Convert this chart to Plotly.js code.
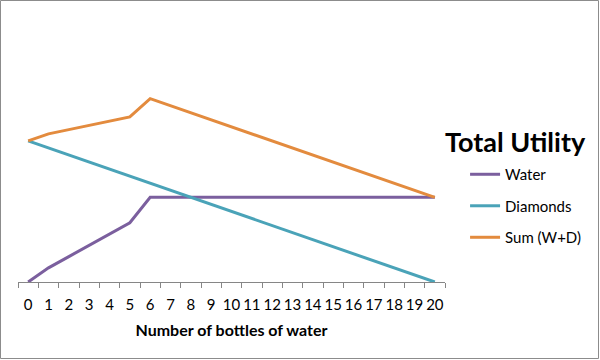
<!DOCTYPE html>
<html>
<head>
<meta charset="utf-8">
<script src="https://cdn.plot.ly/plotly-3.0.1.min.js"></script>
<style>
html,body{margin:0;padding:0;background:#fff;}
#chart{width:600px;height:360px;}
</style>
</head>
<body>
<div id="chart"></div>
<script>
const bottles = ['0','1','2','3','4','5','6','7','8','9','10','11','12','13','14','15','16','17','18','19','20'];
const water = [0,5,9,13,17,21,30,30,30,30,30,30,30,30,30,30,30,30,30,30,30];
const diamonds = [50,47.5,45,42.5,40,37.5,35,32.5,30,27.5,25,22.5,20,17.5,15,12.5,10,7.5,5,2.5,0];
const sumWD = [50,52.5,54,55.5,57,58.5,65,62.5,60,57.5,55,52.5,50,47.5,45,42.5,40,37.5,35,32.5,30];
const seriesNames = ['Water','Diamonds','Sum (W+D)'];
const legendTitle = 'Total Utility';
const xTitle = 'Number of bottles of water';

const colors = ['#7B5F9E','#4AA3B8','#E38B3E'];
const series = [water, diamonds, sumWD];
const FONT = 'Lato, "Open Sans", sans-serif';

const traces = series.map((vals, i) => ({
  type: 'scatter',
  mode: 'lines',
  x: bottles,
  y: vals,
  name: seriesNames[i],
  legendgroup: 'g' + i,
  line: {color: colors[i], width: 3},
  hoverinfo: 'x+y+name'
}));

const layout = {
  width: 600, height: 360,
  margin: {l: 18, r: 155, t: 21, b: 78},
  paper_bgcolor: '#ffffff',
  plot_bgcolor: '#ffffff',
  font: {family: FONT, size: 14, color: '#000'},
  xaxis: {
    type: 'category',
    categoryorder: 'array',
    categoryarray: bottles,
    range: [-0.5, 20.5],
    tickson: 'boundaries',
    ticks: 'outside',
    ticklen: 5,
    tickangle: 0,
    ticklabelstandoff: 9,
    tickcolor: '#868686',
    showline: true,
    linecolor: '#868686',
    linewidth: 1,
    showgrid: false,
    zeroline: false,
    tickfont: {family: FONT, size: 15, color: '#000'},
    title: {text: '<b>' + xTitle + '</b>', font: {family: FONT, size: 16, color: '#000'}, standoff: 12}
  },
  yaxis: {
    range: [0, 92.5],
    visible: false,
    showgrid: false,
    zeroline: false
  },
  showlegend: true,
  legend: {
    x: 1.047, xanchor: 'left',
    y: 0.475, yanchor: 'top',
    font: {family: FONT, size: 15, color: '#000'},
    tracegroupgap: 9,
    traceorder: 'grouped',
    bgcolor: 'rgba(0,0,0,0)'
  },
  annotations: [{
    text: '<b>' + legendTitle + '</b>',
    xref: 'paper', yref: 'paper',
    x: (515 - 18) / 427, y: (282 - 141) / 261,
    xanchor: 'center', yanchor: 'middle',
    showarrow: false,
    font: {family: FONT, size: 27, color: '#000'}
  }],
  shapes: [{
    type: 'rect', xref: 'paper', yref: 'paper',
    x0: (0.5 - 18) / 427, x1: (598.5 - 18) / 427,
    y0: (282 - 358.5) / 261, y1: (282 - 0.5) / 261,
    line: {color: '#8c8c8c', width: 1},
    fillcolor: 'rgba(0,0,0,0)',
    layer: 'below'
  }]
};

Plotly.newPlot('chart', traces, layout, {displayModeBar: false, staticPlot: true});
</script>
</body>
</html>
